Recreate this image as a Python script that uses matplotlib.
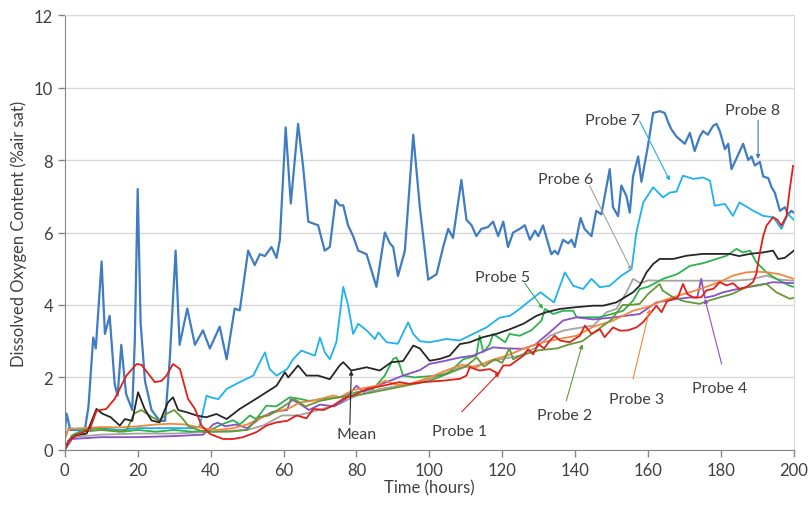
import numpy as np
import matplotlib.pyplot as plt

plt.rcParams['font.family'] = ['Lato', 'DejaVu Sans']

# (time in hours, dissolved oxygen in %air sat) for each probe
probe1 = [(0, 0), (1, 0.25), (3.2, 0.4), (6.9, 0.58), (8.7, 1.08), (11.4, 1.13), (13.7, 1.41), (16.9, 2.05),
          (19.7, 2.37), (21, 2.35), (24.7, 1.87), (26.5, 1.9), (27.9, 2.05), (29.7, 2.37), (31.6, 2.23),
          (33.8, 1.41), (35.7, 1.13), (37.5, 0.67), (39.8, 0.44), (43.4, 0.3), (46.2, 0.3), (48.9, 0.35),
          (52.6, 0.49), (55.3, 0.67), (58.1, 0.76), (61, 0.8), (63.6, 0.95), (66.3, 0.87), (68.2, 1.13),
          (71, 1.1), (73.6, 1.22), (76.4, 1.41), (79.1, 1.5), (82.8, 1.68), (87.3, 1.77), (91.8, 1.87),
          (94.7, 1.82), (98.3, 1.87), (103.8, 1.91), (108.4, 1.96), (110.2, 2.05), (111.1, 2.28), (113.8, 2.19),
          (116.6, 2.23), (118.9, 2.1), (120.3, 2.33), (122.1, 2.33), (123.9, 2.46), (125.8, 2.6), (127.1, 2.78),
          (128.5, 2.64), (129.9, 2.92), (131.5, 2.8), (133.1, 3.02), (134.4, 3.15), (135.8, 3.02), (138.5, 2.97),
          (141.3, 3.15), (142.7, 3.43), (144.5, 3.2), (146.8, 3.33), (148.1, 3.11), (150.4, 3.38), (152.3, 3.29),
          (154.5, 3.3), (156.8, 3.38), (158.6, 3.52), (160.5, 3.75), (162.3, 3.98), (163.7, 3.8), (165.2, 4.1),
          (166.9, 4.17), (168.2, 4.21), (169.6, 4.58), (170.8, 4.3), (172.4, 4.21), (174.6, 4.21), (176, 4.4),
          (178, 4.45), (179.7, 4.63), (181.6, 4.54), (183.3, 4.6), (185.1, 4.44), (186.9, 4.49), (188.8, 4.63),
          (189.7, 4.85), (190.7, 5.45), (191.6, 5.9), (192.5, 6.19), (194.3, 6.42), (195.5, 6.35), (196.6, 6.19),
          (198, 6.46), (198.9, 7.2), (199.8, 7.84)]

probe2 = [(0, 0), (2, 0.4), (5, 0.5), (10, 0.55), (15, 0.5), (17, 0.55), (19, 1.0), (21, 1.1), (24, 0.9),
          (26, 0.8), (28, 1.0), (30, 1.1), (32, 0.9), (34, 0.65), (38, 0.5), (45, 0.5), (50, 0.55), (53, 0.9),
          (56, 0.95), (60, 1.2), (63, 1.4), (66, 1.2), (70, 1.35), (75, 1.45), (80, 1.5), (85, 1.6), (90, 1.7),
          (95, 1.8), (100, 1.9), (105, 2.1), (110, 2.3), (113, 2.55), (115, 2.3), (118, 2.5), (120, 2.4),
          (122, 2.8), (123, 2.5), (125, 2.6), (130, 2.75), (135, 2.8), (138, 2.9), (142, 3.0), (146, 3.3),
          (150, 3.6), (153, 4.0), (155, 4.0), (157.7, 4.03), (160, 4.3), (163.2, 4.58), (164, 4.4),
          (166.9, 4.21), (170, 4.1), (174.2, 4.03), (176, 4.1), (179.7, 4.21), (183, 4.3), (186.9, 4.49),
          (190, 4.55), (192.5, 4.58), (195.2, 4.35), (198.9, 4.17), (200, 4.2)]

probe3 = [(0, 0.3), (1, 0.58), (5, 0.6), (10, 0.63), (15, 0.62), (20, 0.65), (25, 0.7), (28.8, 0.72),
          (33, 0.7), (38.9, 0.58), (42, 0.55), (46.2, 0.6), (50, 0.7), (55.3, 0.95), (58.1, 1.05), (61.6, 1.15),
          (64.5, 1.31), (68, 1.35), (73.6, 1.5), (75.4, 1.45), (79.1, 1.65), (85.5, 1.77), (87.8, 1.91),
          (91, 1.8), (94.7, 1.82), (100, 2.0), (105.6, 2.23), (109, 2.35), (112.9, 2.28), (116.6, 2.46),
          (121.3, 2.6), (126, 2.8), (131.2, 2.97), (135, 3.05), (140.4, 3.15), (145, 3.4), (150, 3.55),
          (155.9, 3.84), (160, 3.95), (164.1, 4.12), (168, 4.25), (171.5, 4.35), (176, 4.5), (180, 4.65),
          (183.3, 4.81), (187, 4.9), (189.7, 4.92), (193, 4.9), (196, 4.85), (200, 4.72)]

probe4 = [(0, 0), (2, 0.3), (10, 0.35), (20, 0.35), (30, 0.38), (38, 0.42), (40.7, 0.7), (42, 0.75),
          (44, 0.65), (47, 0.7), (50, 0.6), (52, 0.75), (54, 0.9), (57, 1.05), (61, 1.1), (62, 1.4), (64, 1.3),
          (67, 1.1), (70, 1.25), (74, 1.2), (77, 1.4), (80, 1.77), (82, 1.6), (85, 1.75), (88.3, 1.87),
          (92.8, 2.05), (97.4, 2.2), (100, 2.37), (104, 2.45), (108.4, 2.55), (112, 2.6), (117.5, 2.83),
          (121, 2.8), (125.8, 2.79), (129, 2.9), (133.1, 3.25), (136.7, 3.57), (140.4, 3.66), (145, 3.6),
          (150, 3.65), (157.7, 3.75), (162.3, 4.07), (167, 4.15), (171.5, 4.21), (173.5, 4.2), (174.6, 4.72),
          (175.6, 4.2), (178, 4.25), (180.6, 4.35), (185, 4.45), (189.7, 4.53), (194.3, 4.63), (200, 4.6)]

probe5 = [(0, 0), (2, 0.4), (5, 0.55), (8, 0.6), (12, 0.55), (16, 0.5), (20, 0.55), (25, 0.5), (30, 0.55),
          (35, 0.5), (40, 0.55), (43, 0.7), (46.2, 0.82), (48, 0.7), (50.8, 0.95), (52.5, 0.85), (55.3, 1.22),
          (58, 1.2), (61.7, 1.45), (64.4, 1.41), (67, 1.35), (70.9, 1.41), (75.4, 1.45), (80, 1.59),
          (84.6, 1.68), (87.8, 2.05), (90.1, 2.51), (91, 2.55), (91.9, 2.33), (92.8, 2.05), (96, 2.0),
          (102, 2.05), (105, 2.1), (107.5, 2.33), (109.3, 2.5), (112.9, 2.6), (113.8, 3.15), (114.8, 2.7),
          (116.5, 2.9), (117.5, 3.2), (119, 3.1), (120.8, 2.97), (122, 3.2), (124.8, 3.15), (128, 3.3),
          (130.8, 3.57), (131.7, 3.89), (134, 3.75), (136.7, 3.84), (139.5, 3.84), (140.4, 3.66), (144, 3.66),
          (146.8, 3.66), (150, 3.75), (153.2, 3.84), (155.9, 4.12), (157.7, 4.44), (160, 4.5), (164.1, 4.72),
          (168, 4.85), (171.5, 5.08), (175, 5.15), (178.8, 5.27), (181.6, 5.36), (184.3, 5.55), (186, 5.45),
          (188, 5.5), (189.7, 5.18), (192.5, 4.9), (195.2, 4.72), (198.9, 4.53), (200, 4.5)]

probe6 = [(0, 0), (2, 0.35), (10, 0.42), (20, 0.45), (30, 0.45), (40, 0.5), (50, 0.55), (54.4, 0.67),
          (59.6, 0.95), (64, 0.95), (69, 1.08), (75.4, 1.27), (80, 1.5), (86.4, 1.68), (94.7, 1.82), (100, 1.95),
          (104, 2.1), (108.4, 2.28), (112, 2.3), (117.5, 2.46), (124.8, 2.6), (129.4, 2.83), (133.1, 3.15),
          (136.7, 3.29), (140, 3.35), (145, 3.43), (148.6, 3.8), (151.3, 3.89), (154.1, 4.35), (155.9, 4.72),
          (158, 4.6), (160, 4.68), (163.2, 4.67), (172.4, 4.67), (183.3, 4.67), (188, 4.7), (192.5, 4.81),
          (196, 4.7), (200, 4.67)]

probe7 = [(0, 0.3), (1, 0.6), (5, 0.55), (10, 0.6), (15, 0.55), (20, 0.6), (25, 0.6), (30, 0.6), (35, 0.6),
          (37, 0.65), (38.9, 1.5), (40, 1.45), (42.1, 1.4), (44.4, 1.68), (48, 1.87), (51.7, 2.05), (54.9, 2.69),
          (56.2, 2.23), (58.1, 2.05), (61, 2.23), (62.6, 2.5), (64.9, 2.74), (68.6, 2.6), (70, 3.1), (71.3, 2.7),
          (72.7, 2.5), (74.5, 2.97), (76.4, 4.5), (77.7, 4.0), (79.1, 3.2), (80.5, 3.48), (82.8, 3.3),
          (85.1, 3.06), (86, 3.24), (88.3, 2.97), (91.4, 2.93), (94.2, 3.52), (95.6, 3.2), (97.4, 3.0),
          (100.1, 2.97), (104.7, 3.06), (108.4, 3.02), (112, 3.2), (115.7, 3.38), (119.3, 3.65), (122.1, 3.7),
          (124.8, 3.89), (127.6, 4.12), (130.5, 4.35), (134.2, 4.07), (137.2, 4.9), (139.5, 4.53),
          (142.2, 4.44), (144.5, 4.72), (146.8, 4.49), (149.5, 4.53), (152.7, 4.81), (155.5, 4.99), (156.8, 6.0),
          (158.7, 6.83), (161.4, 7.25), (164.1, 6.97), (165.9, 7.1), (167.8, 7.13), (169.6, 7.57),
          (172.4, 7.48), (175.1, 7.52), (177, 7.43), (178.3, 6.74), (181.1, 6.79), (183.3, 6.46),
          (185.1, 6.83), (188.9, 6.6), (191.6, 6.46), (194.4, 6.42), (196.6, 6.1), (198.4, 6.51), (200, 6.35)]

probe8 = [(0, 0.5), (0.5, 1.0), (1.5, 0.55), (5.5, 0.55), (6.5, 1.2), (7.8, 3.1), (8.5, 2.8), (10.1, 5.2),
          (11, 3.2), (12.3, 3.7), (13.7, 1.8), (14.5, 1.5), (15.5, 2.9), (16.8, 1.55), (18.5, 1.1), (19.2, 3.0),
          (20, 7.2), (20.8, 3.5), (22, 1.9), (23.8, 1.1), (26, 0.8), (27.5, 0.8), (28.8, 2.5), (30.4, 5.5),
          (31.5, 2.9), (33.6, 3.9), (35.7, 2.9), (37.9, 3.3), (39.8, 2.8), (42.5, 3.4), (44.4, 2.5), (46.6, 3.9),
          (48, 3.85), (48.9, 4.5), (50.3, 5.5), (52.1, 5.1), (53.5, 5.4), (54.9, 5.35), (56.7, 5.6), (58.1, 5.3),
          (59, 5.8), (60.6, 8.9), (62, 6.8), (64, 9.0), (65.4, 7.8), (66.8, 6.3), (69.5, 6.2), (71.3, 5.5),
          (72.7, 5.6), (74.3, 6.9), (75.4, 6.75), (76.4, 6.75), (77.7, 6.2), (79.1, 5.9), (80.5, 5.5),
          (82.8, 5.4), (85.5, 4.5), (87.8, 6.0), (89.2, 5.7), (90.1, 5.6), (91.4, 4.8), (93.3, 5.5), (95.6, 8.7),
          (97.4, 6.7), (99.7, 4.7), (102, 4.85), (103.8, 5.6), (105.2, 6.1), (106.5, 5.85), (108.8, 7.45),
          (110.2, 6.35), (111.6, 6.2), (112.9, 5.9), (114.3, 6.1), (116.1, 6.15), (117.5, 6.3), (118.9, 5.9),
          (120.3, 6.3), (121.6, 5.6), (123, 6.0), (124.8, 6.1), (126.2, 6.2), (127.6, 5.8), (129, 6.05),
          (129.9, 5.9), (131.2, 6.2), (132.6, 5.7), (133.5, 5.4), (134.4, 5.5), (135.3, 5.4), (136.7, 5.8),
          (138.1, 5.7), (139, 5.8), (139.9, 5.6), (141.5, 6.4), (142.6, 6.1), (144.5, 5.9), (145.8, 6.6),
          (147.2, 6.5), (149.5, 7.75), (150.4, 6.7), (151.8, 6.45), (152.7, 7.3), (154.1, 7.0), (155, 6.55),
          (155.9, 7.55), (157.3, 8.1), (158.2, 7.4), (160, 8.4), (161.4, 9.3), (163.2, 9.35), (164.6, 9.3),
          (165.5, 9.05), (166.4, 8.85), (167.8, 8.65), (170.1, 8.45), (171.5, 8.75), (172.8, 8.25),
          (174.2, 8.65), (175.1, 8.8), (176.4, 8.7), (177.9, 8.95), (178.8, 9.0), (179.7, 8.8), (181.1, 8.3),
          (182, 8.45), (182.9, 7.75), (184.3, 8.05), (186.1, 8.45), (187.5, 8.0), (188.4, 8.1), (189.3, 7.85),
          (190.7, 7.95), (191.6, 7.55), (193, 7.5), (193.9, 7.25), (194.8, 7.1), (196.2, 6.6), (197.6, 6.7),
          (198.4, 6.5), (199.3, 6.6), (200, 6.55)]

mean = [(0, 0), (1, 0.25), (3, 0.4), (6, 0.45), (8.7, 1.13), (10.3, 1.0), (12.6, 0.9), (15.1, 0.67),
        (16.5, 0.85), (18.5, 0.8), (20.1, 1.59), (21.9, 1.13), (23.8, 0.81), (26, 0.76), (28.3, 1.31),
        (29.7, 1.45), (31.1, 1.1), (33.4, 1.04), (36.1, 0.95), (38.8, 0.9), (41.6, 0.99), (44.4, 0.85),
        (48, 1.13), (51.7, 1.36), (55.3, 1.59), (58.1, 1.77), (60.4, 2.14), (61.3, 2.0), (64, 2.33),
        (66.3, 2.05), (69.5, 2.05), (72.7, 1.95), (75.4, 2.33), (76.4, 2.42), (78.6, 2.19), (82.8, 2.28),
        (86.4, 2.19), (89.6, 2.42), (92.8, 2.45), (95.6, 2.88), (97.4, 2.8), (100.1, 2.46), (102.9, 2.51),
        (105.6, 2.6), (108.4, 2.92), (111.1, 2.97), (114.7, 3.11), (118.4, 3.2), (122.1, 3.33), (125.8, 3.48),
        (129.4, 3.7), (132.1, 3.8), (135.8, 3.89), (140.4, 3.94), (145, 3.98), (147.7, 3.98), (151.3, 4.07),
        (155.9, 4.35), (157.7, 4.53), (159.6, 4.9), (161.4, 5.13), (163.2, 5.27), (166.9, 5.27), (170.6, 5.36),
        (175.1, 5.41), (178.8, 5.41), (182.4, 5.41), (185, 5.35), (187.9, 5.41), (191.6, 5.45), (194.3, 5.5),
        (195.7, 5.27), (197.5, 5.3), (198.9, 5.41), (200, 5.5)]

# name, data, colour, label text position, arrow start, arrow tip
series = [
    ("Probe 8", probe8, "#3F7DC0", (188.8, 9.39), (190.2, 9.10), (190.2, 8.03)),
    ("Probe 7", probe7, "#1EB2EE", (150.2, 9.11), (157.7, 9.08), (166.0, 7.43)),
    ("Probe 6", probe6, "#A3A3A3", (137.4, 7.48), (144.0, 7.29), (155.5, 4.95)),
    ("Probe 5", probe5, "#2DB34D", (120.2, 4.76), (126.2, 4.60), (131.2, 3.89)),
    ("Probe 4", probe4, "#8A50C6", (179.7, 1.70), (180.2, 2.37), (175.6, 4.17)),
    ("Probe 3", probe3, "#F5873A", (156.8, 1.39), (155.9, 1.96), (160.5, 3.89)),
    ("Probe 2", probe2, "#66983A", (137.2, 0.95), (137.6, 1.36), (142.0, 2.92)),
    ("Mean", mean, "#262626", (80.0, 0.44), (78.2, 0.70), (78.6, 2.19)),
    ("Probe 1", probe1, "#E0201B", (108.4, 0.53), (108.9, 1.05), (119.3, 2.14)),
]

fig = plt.figure(figsize=(8.1, 5.06), dpi=100)
ax = fig.add_axes([0.080, 0.109, 0.900, 0.859])

for name, data, color, txt, start, tip in series:
    arr = np.array(data)
    lw = 1.6 if name == "Probe 8" else 1.3
    ax.plot(arr[:, 0], arr[:, 1], color=color, lw=lw, solid_joinstyle='round')

for name, data, color, txt, start, tip in series:
    ax.text(txt[0], txt[1], name, ha='center', va='center', fontsize=11.5, color='#404040')
    ax.annotate('', xy=tip, xytext=start,
                arrowprops=dict(arrowstyle='-|>', color=color, lw=0.8,
                                mutation_scale=6, shrinkA=0, shrinkB=0))

ax.set_xlim(0, 200)
ax.set_ylim(0, 12)
ax.set_xticks(np.arange(0, 201, 20))
ax.set_yticks(np.arange(0, 13, 2))
ax.yaxis.grid(True, color='#D9D9D9', lw=1)
ax.set_axisbelow(True)
for s in ['top', 'right']:
    ax.spines[s].set_color('#D9D9D9')
for s in ['left', 'bottom']:
    ax.spines[s].set_color('#868686')
ax.tick_params(axis='both', colors='#868686', labelcolor='#404040', labelsize=12,
               length=5, width=1, direction='out')
ax.set_xlabel('Time (hours)', fontsize=12, color='#404040', labelpad=1)
ax.set_ylabel('Dissolved Oxygen Content (%air sat)', fontsize=12, color='#404040', labelpad=5)

fig.savefig('out.png', dpi=100)
